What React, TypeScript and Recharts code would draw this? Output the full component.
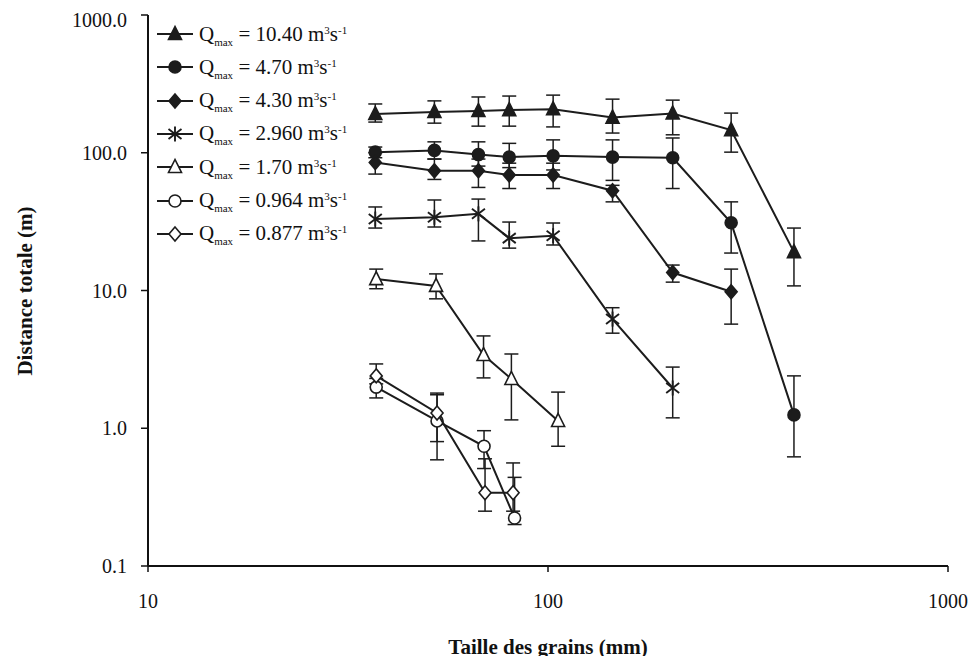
import React from 'react';
import { ScatterChart, Scatter, XAxis, YAxis, ErrorBar, Label } from 'recharts';

// grain size (mm), total distance (m), error bar low / high (m) for each discharge
const q1040Size = [37, 52, 67, 80, 103, 145, 205, 287, 412];
const q1040Dist = [191, 198, 201, 204, 207, 180, 193, 146, 19.0];
const q1040Low = [167, 164, 156, 156, 154, 139, 135, 101, 10.8];
const q1040High = [226, 238, 254, 258, 262, 245, 241, 194, 28.4];

const q470Size = [37, 52, 67, 80, 103, 145, 205, 287, 412];
const q470Dist = [101, 104, 97, 93, 95, 93, 92, 31, 1.25];
const q470Low = [92, 90, 80, 78, 75, 63, 55, 18.7, 0.62];
const q470High = [110, 120, 120, 117, 124, 124, 128, 44, 2.4];

const q430Size = [37, 52, 67, 80, 103, 145, 205, 287];
const q430Dist = [85, 74, 74, 69, 69, 53, 13.5, 9.8];
const q430Low = [70, 64, 56, 55, 55, 44, 11.5, 5.7];
const q430High = [100, 90, 90, 84, 84, 58, 15.3, 14.3];

const q296Size = [37, 52, 67, 80, 103, 145, 205];
const q296Dist = [33, 34, 36, 24, 25, 6.2, 1.96];
const q296Low = [28.4, 28.9, 22.9, 20.3, 21.4, 4.9, 1.19];
const q296High = [40.4, 45.4, 46.1, 31.4, 30.9, 7.5, 2.78];

const q170Size = [37.2, 52.5, 69, 81, 106];
const q170Dist = [12.1, 10.8, 3.4, 2.28, 1.13];
const q170Low = [10.3, 8.7, 2.32, 1.15, 0.74];
const q170High = [14.3, 13.2, 4.68, 3.46, 1.83];

const q0964Size = [37.2, 52.8, 69.2, 82.5];
const q0964Dist = [1.99, 1.13, 0.74, 0.223];
const q0964Low = [1.66, 0.59, 0.51, 0.2];
const q0964High = [2.3, 1.8, 0.96, 0.44];

const q0877Size = [37.2, 52.8, 69.6, 81.8];
const q0877Dist = [2.4, 1.29, 0.34, 0.34];
const q0877Low = [2.1, 0.8, 0.25, 0.25];
const q0877High = [2.93, 1.75, 0.6, 0.56];

const xTicks = [10, 100, 1000];
const yTicks = [0.1, 1, 10, 100, 1000];

const W = 961;
const H = 648;
const INK = '#1c1c1c';
const SERIF = '"Liberation Serif", "Times New Roman", serif';

type Row = { size: number; dist: number; err: [number, number] };

const toRows = (x: number[], y: number[], lo: number[], hi: number[]): Row[] =>
  x.map((v, i) => ({ size: v, dist: y[i], err: [y[i] - lo[i], hi[i] - y[i]] }));

// marker drawing
const triangle = (filled: boolean) => ({ cx, cy }: any) => (
  <polygon
    points={`${cx},${cy - 7.5} ${cx - 6.5},${cy + 5.5} ${cx + 6.5},${cy + 5.5}`}
    fill={filled ? INK : '#fff'}
    stroke={INK}
    strokeWidth={1.6}
  />
);

const circle = (filled: boolean) => ({ cx, cy }: any) => (
  <circle cx={cx} cy={cy} r={6} fill={filled ? INK : '#fff'} stroke={INK} strokeWidth={1.6} />
);

const diamond = (filled: boolean) => ({ cx, cy }: any) => (
  <polygon
    points={`${cx},${cy - 7} ${cx + 6},${cy} ${cx},${cy + 7} ${cx - 6},${cy}`}
    fill={filled ? INK : '#fff'}
    stroke={INK}
    strokeWidth={1.6}
  />
);

const asterisk = ({ cx, cy }: any) => (
  <g stroke={INK} strokeWidth={1.9}>
    <line x1={cx - 6.5} y1={cy - 5} x2={cx + 6.5} y2={cy + 5} />
    <line x1={cx - 6.5} y1={cy + 5} x2={cx + 6.5} y2={cy - 5} />
    <line x1={cx} y1={cy - 7.5} x2={cx} y2={cy + 7.5} />
  </g>
);

const SERIES = [
  { key: 'q1040', value: '10.40', rows: toRows(q1040Size, q1040Dist, q1040Low, q1040High), shape: triangle(true) },
  { key: 'q470', value: '4.70', rows: toRows(q470Size, q470Dist, q470Low, q470High), shape: circle(true) },
  { key: 'q430', value: '4.30', rows: toRows(q430Size, q430Dist, q430Low, q430High), shape: diamond(true) },
  { key: 'q296', value: '2.960', rows: toRows(q296Size, q296Dist, q296Low, q296High), shape: asterisk },
  { key: 'q170', value: '1.70', rows: toRows(q170Size, q170Dist, q170Low, q170High), shape: triangle(false) },
  { key: 'q0964', value: '0.964', rows: toRows(q0964Size, q0964Dist, q0964Low, q0964High), shape: circle(false) },
  { key: 'q0877', value: '0.877', rows: toRows(q0877Size, q0877Dist, q0877Low, q0877High), shape: diamond(false) },
];

const tickStyle = { fill: '#111', fontSize: 20, fontFamily: SERIF };

function LegendBox() {
  return (
    <div style={{ position: 'absolute', left: 149, top: 10, fontFamily: SERIF, color: '#111' }}>
      {SERIES.map((s, i) => (
        <div
          key={s.key}
          style={{ position: 'absolute', top: i * 33.3, left: 0, height: 32, display: 'flex', alignItems: 'center', whiteSpace: 'nowrap' }}
        >
          <svg width={36} height={20} style={{ display: 'block' }}>
            <line x1={0} y1={10} x2={36} y2={10} stroke={INK} strokeWidth={2} />
            {s.shape({ cx: 18, cy: 10 })}
          </svg>
          <span style={{ fontSize: 21, marginLeft: 6 }}>
            Q<sub style={{ fontSize: 11, verticalAlign: -5, lineHeight: 0 }}>max</sub> = {s.value} m
            <sup style={{ fontSize: 11, verticalAlign: 7, lineHeight: 0 }}>3</sup>s
            <sup style={{ fontSize: 11, verticalAlign: 7, lineHeight: 0 }}>-1</sup>
          </span>
        </div>
      ))}
    </div>
  );
}

export default function App() {
  return (
    <div style={{ position: 'relative', width: W, height: H, background: '#fff' }}>
      <ScatterChart width={W} height={H} margin={{ top: 7, right: 21, bottom: 0, left: 0 }}>
        <XAxis
          type="number"
          dataKey="size"
          scale="log"
          domain={[10, 1000]}
          ticks={xTicks}
          allowDataOverflow
          height={90}
          tick={tickStyle}
          tickSize={6}
          tickMargin={22}
          axisLine={{ stroke: '#111', strokeWidth: 2 }}
          tickLine={{ stroke: '#111', strokeWidth: 1.5 }}
        />
        <YAxis
          type="number"
          dataKey="dist"
          scale="log"
          domain={[0.1, 1000]}
          ticks={yTicks}
          allowDataOverflow
          width={140}
          tick={tickStyle}
          tickFormatter={(v: number) => v.toFixed(1)}
          tickSize={7}
          tickMargin={14}
          axisLine={{ stroke: '#111', strokeWidth: 2 }}
          tickLine={{ stroke: '#111', strokeWidth: 1.5 }}
        >
          <Label
            content={() => (
              <text
                x={17}
                y={283}
                transform="rotate(-90 17 283)"
                textAnchor="middle"
                dominantBaseline="central"
                fontFamily={SERIF}
                fontSize={21}
                fontWeight="bold"
                fill="#111"
              >
                Distance totale (m)
              </text>
            )}
          />
        </YAxis>
        {SERIES.map((s) => (
          <Scatter
            key={s.key}
            name={s.key}
            data={s.rows}
            shape={s.shape}
            line={{ stroke: INK, strokeWidth: 2 }}
            isAnimationActive={false}
          >
            <ErrorBar dataKey="err" direction="y" width={7} stroke={INK} strokeWidth={1.5} />
          </Scatter>
        ))}
      </ScatterChart>
      <LegendBox />
      {/* x axis title sits below the svg box */}
      <div
        style={{
          position: 'absolute',
          left: 340,
          width: 400,
          top: 626,
          lineHeight: '26px',
          textAlign: 'center',
          fontFamily: SERIF,
          fontSize: 21,
          fontWeight: 'bold',
          color: '#111',
        }}
      >
        Taille des grains (mm)
      </div>
    </div>
  );
}
